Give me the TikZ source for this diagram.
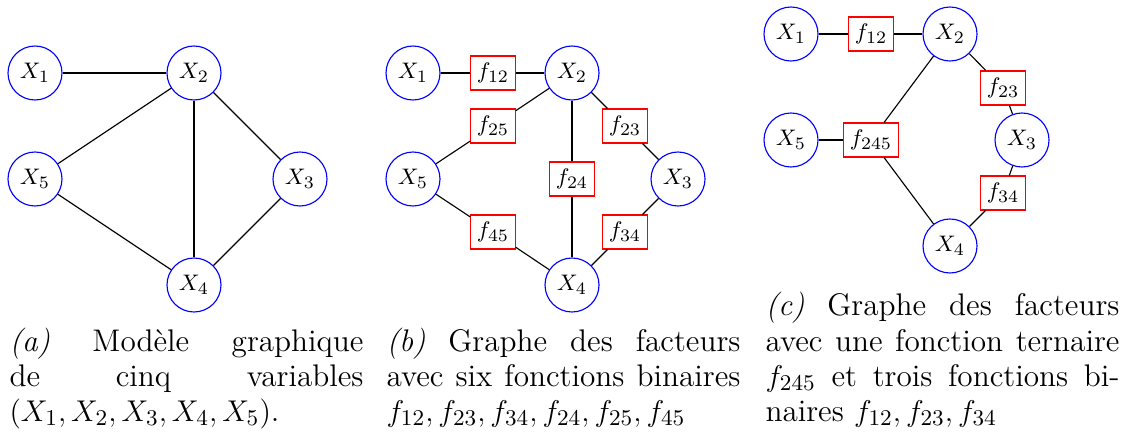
\documentclass[tikz,border=0pt]{standalone}
\begin{document}
\begin{tikzpicture}[x=0.4pt,y=-0.4pt,
  var/.style={circle,draw=blue,line width=0.45pt,minimum size=21.6pt,inner sep=0pt,font=\fontsize{9.4}{10}\selectfont},
  fac/.style={rectangle,draw=red,line width=0.45pt,minimum height=13.6pt,inner xsep=2.4pt,inner ysep=0pt,font=\fontsize{9.4}{10}\selectfont},
  edge/.style={line width=0.45pt},
  captxt/.style={anchor=base west,inner sep=0pt,font=\fontsize{12.5}{14}\selectfont}]
\useasboundingbox (0,0) rectangle (1123,438);
% (a)
\node[var] (a1) at (35,73) {$X_1$};
\node[var] (a2) at (194,73) {$X_2$};
\node[var] (a5) at (35,179) {$X_5$};
\node[var] (a3) at (300,179) {$X_3$};
\node[var] (a4) at (194,285) {$X_4$};
\draw[edge] (a1) -- (a2);
\draw[edge] (a2) -- (a5);
\draw[edge] (a2) -- (a4);
\draw[edge] (a2) -- (a3);
\draw[edge] (a5) -- (a4);
\draw[edge] (a3) -- (a4);
% (b)
\node[var] (b1) at (413,73) {$X_1$};
\node[fac] (b12) at (493,73) {$f_{12}$};
\node[var] (b2) at (572,73) {$X_2$};
\node[fac] (b25) at (493,126) {$f_{25}$};
\node[fac] (b23) at (625,126) {$f_{23}$};
\node[var] (b5) at (413,179) {$X_5$};
\node[fac] (b24) at (572,179) {$f_{24}$};
\node[var] (b3) at (678,179) {$X_3$};
\node[fac] (b45) at (493,232) {$f_{45}$};
\node[fac] (b34) at (625,232) {$f_{34}$};
\node[var] (b4) at (572,285) {$X_4$};
\draw[edge] (b1) -- (b12) -- (b2);
\draw[edge] (b2) -- (b25) -- (b5);
\draw[edge] (b2) -- (b24) -- (b4);
\draw[edge] (b2) -- (b23) -- (b3);
\draw[edge] (b5) -- (b45) -- (b4);
\draw[edge] (b3) -- (b34) -- (b4);
% (c)
\node[var] (c1) at (791,34) {$X_1$};
\node[fac] (c12) at (871,34) {$f_{12}$};
\node[var] (c2) at (950,34) {$X_2$};
\node[fac] (c23) at (1003,88) {$f_{23}$};
\node[var] (c5) at (791,140) {$X_5$};
\node[fac] (c245) at (871,140) {$f_{245}$};
\node[var] (c3) at (1022,140) {$X_3$};
\node[fac] (c34) at (1003,193) {$f_{34}$};
\node[var] (c4) at (950,246) {$X_4$};
\draw[edge] (c1) -- (c12) -- (c2);
\draw[edge] (c2) -- (c23) -- (c3);
\draw[edge] (c3) -- (c34) -- (c4);
\draw[edge] (c5) -- (c245);
\draw[edge] (c245) -- (c2);
\draw[edge] (c245) -- (c4);
% captions
\node[captxt] (ta1) at (9,351) {\makebox[141.6pt][s]{\textit{(a)} Modèle graphique}};
\node[captxt] (ta2) at (9,386) {\makebox[141.6pt][s]{de cinq variables}};
\node[captxt] (ta3) at (9,421) {$(X_1, X_2, X_3, X_4, X_5)$.};
\node[captxt] (tb1) at (386,351) {\makebox[141.6pt][s]{\textit{(b)} Graphe des facteurs}};
\node[captxt] (tb2) at (386,386) {\makebox[141.6pt][s]{avec six fonctions binaires}};
\node[captxt] (tb3) at (386,421) {$f_{12}, f_{23}, f_{34}, f_{24}, f_{25}, f_{45}$};
\node[captxt] (tc1) at (765,316) {\makebox[141.6pt][s]{\textit{(c)} Graphe des facteurs}};
\node[captxt] (tc2) at (765,351) {\makebox[141.6pt][s]{avec une fonction ternaire}};
\node[captxt] (tc3) at (765,386) {\makebox[141.6pt][s]{$f_{245}$ et trois fonctions bi-}};
\node[captxt] (tc4) at (765,421) {naires $f_{12}, f_{23}, f_{34}$};
\end{tikzpicture}
\end{document}
